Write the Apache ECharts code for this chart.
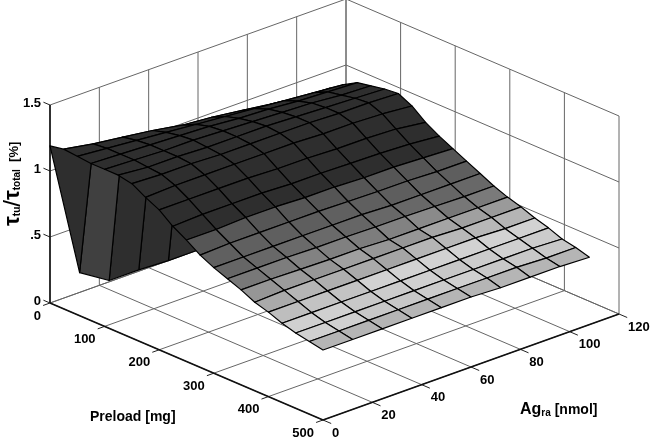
<!DOCTYPE html>
<html>
<head>
<meta charset="utf-8">
<script src="https://cdn.jsdelivr.net/npm/echarts@6/dist/echarts.min.js"></script>
<style>
html, body { margin: 0; padding: 0; background: #fff; }
#chart { width: 650px; height: 437px; }
</style>
</head>
<body>
<div id="chart"></div>
<script>
var preloadTicks = [0, 100, 200, 300, 400, 500];
var agTicks = [0, 20, 40, 60, 80, 100, 120];
var zTicks = [0, 0.5, 1, 1.5];
var zTickLabels = ['0', '.5', '1', '1.5'];

var preloadGrid = [0, 25, 50, 75, 100, 125, 150, 175, 200, 225, 250, 275, 300, 325, 350, 375, 400, 425, 450, 475, 500];
var agGrid = [0, 12, 24, 36, 48, 60, 72, 84, 96, 108];

// ratio, one row per preload, one column per Ag
var ratioRows = [
  [1.19, 0.15, 0.01, 0.01, 0.00, 0.00, 0.00, 0.00, 0.00, 0.00],
  [1.21, 1.17, 1.14, 1.11, 1.07, 1.05, 1.02, 0.99, 0.96, 0.95],
  [1.20, 1.18, 1.16, 1.14, 1.12, 1.10, 1.08, 1.06, 1.04, 1.02],
  [1.19, 1.18, 1.17, 1.16, 1.15, 1.13, 1.12, 1.10, 1.09, 1.08],
  [1.19, 1.18, 1.17, 1.17, 1.16, 1.15, 1.14, 1.13, 1.11, 1.10],
  [1.19, 1.17, 1.17, 1.16, 1.16, 1.16, 1.15, 1.14, 1.13, 1.12],
  [1.17, 1.16, 1.16, 1.15, 1.15, 1.15, 1.15, 1.14, 1.14, 1.13],
  [1.11, 1.12, 1.12, 1.12, 1.12, 1.12, 1.11, 1.11, 1.10, 1.08],
  [1.06, 1.06, 1.06, 1.06, 1.05, 1.05, 1.04, 1.04, 1.03, 1.00],
  [0.98, 0.99, 0.99, 0.99, 0.98, 0.98, 0.975, 0.97, 0.96, 0.94],
  [0.92, 0.92, 0.93, 0.93, 0.92, 0.92, 0.91, 0.91, 0.90, 0.89],
  [0.85, 0.86, 0.86, 0.86, 0.86, 0.855, 0.85, 0.85, 0.84, 0.84],
  [0.80, 0.80, 0.80, 0.80, 0.80, 0.80, 0.79, 0.79, 0.79, 0.79],
  [0.76, 0.76, 0.76, 0.755, 0.755, 0.75, 0.75, 0.745, 0.74, 0.74],
  [0.72, 0.72, 0.715, 0.71, 0.71, 0.70, 0.70, 0.70, 0.70, 0.70],
  [0.67, 0.68, 0.68, 0.68, 0.68, 0.68, 0.68, 0.67, 0.67, 0.67],
  [0.64, 0.64, 0.64, 0.64, 0.64, 0.64, 0.64, 0.64, 0.63, 0.63],
  [0.60, 0.60, 0.60, 0.60, 0.60, 0.60, 0.60, 0.60, 0.60, 0.60],
  [0.57, 0.57, 0.57, 0.57, 0.57, 0.57, 0.57, 0.57, 0.57, 0.56],
  [0.55, 0.55, 0.55, 0.55, 0.55, 0.55, 0.55, 0.55, 0.54, 0.54],
  [0.53, 0.53, 0.53, 0.53, 0.53, 0.53, 0.52, 0.52, 0.52, 0.51]
];

// grey level of each facet, one row per preload band
var shadeRows = [
  [46, 64, 46, 46, 48, 46, 46, 46, 46],
  [46, 46, 46, 46, 46, 46, 46, 46, 46],
  [46, 46, 46, 46, 46, 46, 46, 46, 46],
  [46, 46, 46, 46, 46, 46, 46, 46, 46],
  [46, 46, 46, 46, 46, 46, 46, 46, 46],
  [46, 46, 46, 46, 46, 46, 46, 46, 46],
  [46, 46, 46, 46, 46, 46, 46, 46, 46],
  [46, 46, 46, 46, 46, 46, 46, 46, 46],
  [46, 46, 46, 46, 46, 46, 46, 46, 46],
  [46, 46, 46, 46, 46, 46, 46, 46, 46],
  [86, 88, 86, 86, 85, 86, 86, 85, 85],
  [96, 96, 95, 94, 96, 95, 94, 95, 94],
  [102, 104, 106, 106, 102, 104, 104, 102, 104],
  [120, 125, 130, 128, 125, 130, 138, 119, 122],
  [150, 155, 150, 160, 150, 150, 165, 160, 154],
  [170, 181, 175, 170, 165, 181, 184, 184, 181],
  [190, 195, 195, 210, 210, 210, 210, 210, 210],
  [208, 208, 200, 204, 208, 200, 204, 208, 204],
  [208, 208, 200, 200, 204, 208, 200, 200, 200],
  [181, 181, 181, 181, 181, 181, 181, 181, 181]
];

var preloadMax = 500, agMax = 120, zMax = 1.5;

// parallel projection of the 3d box onto the flat helper axes
function project(preload, ag, z) {
  return [
    50 + 273 * preload / preloadMax + 296 * ag / agMax,
    303 + 117 * preload / preloadMax - 106 * ag / agMax - 198 * z / zMax
  ];
}

var wallLines = [], axisLines = [], tickLines = [], tickTexts = [];
preloadTicks.forEach(function (p) {
  wallLines.push([[p, agMax, 0], [p, agMax, zMax]]);
  wallLines.push([[p, 0, 0], [p, agMax, 0]]);
  tickLines.push([[p, 0, 0], [p, -2.8, 0]]);
  tickTexts.push({ at: [p, 0, 0], dx: -9, dy: 13, align: 'right', text: String(p) });
});
agTicks.forEach(function (a) {
  wallLines.push([[0, a, 0], [0, a, zMax]]);
  wallLines.push([[0, a, 0], [preloadMax, a, 0]]);
  tickLines.push([[preloadMax, a, 0], [preloadMax + 15, a, 0]]);
  tickTexts.push({ at: [preloadMax, a, 0], dx: 9, dy: 13, align: 'left', text: String(a) });
});
zTicks.forEach(function (z, i) {
  wallLines.push([[0, 0, z], [0, agMax, z]]);
  wallLines.push([[0, agMax, z], [preloadMax, agMax, z]]);
  tickLines.push([[0, 0, z], [-12, 0, z]]);
  tickTexts.push({ at: [0, 0, z], dx: -9, dy: -2, align: 'right', text: zTickLabels[i] });
});
axisLines.push([[0, 0, 0], [0, 0, zMax]]);
axisLines.push([[0, 0, 0], [preloadMax, 0, 0]]);
axisLines.push([[preloadMax, 0, 0], [preloadMax, agMax, 0]]);

// back facets first: low preload, high Ag
var facets = [];
for (var r = 0; r < preloadGrid.length - 1; r++) {
  for (var c = agGrid.length - 2; c >= 0; c--) {
    facets.push([r, c]);
  }
}

function point3d(api, q) {
  return api.coord(project(q[0], q[1], q[2]));
}

function segmentSeries(list, color, width, z) {
  return {
    type: 'custom',
    silent: true,
    z: z,
    clip: false,
    data: list.map(function (s, i) { return [i, 0]; }),
    renderItem: function (params, api) {
      var s = list[params.dataIndex];
      var a = point3d(api, s[0]), b = point3d(api, s[1]);
      return {
        type: 'line',
        shape: { x1: a[0], y1: a[1], x2: b[0], y2: b[1] },
        style: { stroke: color, lineWidth: width }
      };
    }
  };
}

var chart = echarts.init(document.getElementById('chart'), null, { renderer: 'canvas' });
chart.setOption({
  animation: false,
  backgroundColor: '#fff',
  grid: { left: 0, right: 0, top: 0, bottom: 0 },
  xAxis: { type: 'value', min: 0, max: 650, show: false },
  yAxis: { type: 'value', min: 0, max: 437, inverse: true, show: false },
  graphic: [
    {
      type: 'text', left: 90, top: 410,
      style: { text: 'Preload [mg]', font: 'bold 14px "Liberation Sans"', fill: '#000' }
    },
    {
      type: 'text', left: 520, top: 402,
      style: {
        text: '{a|Ag}{b|ra}{c| [nmol]}',
        rich: {
          a: { font: 'bold 16px "Liberation Sans"', fill: '#000' },
          b: { font: 'bold 10px "Liberation Sans"', fill: '#000', padding: [7, 0, 0, 0] },
          c: { font: 'bold 14px "Liberation Sans"', fill: '#000' }
        }
      }
    },
    {
      type: 'text', x: 1, y: 226, rotation: Math.PI / 2,
      style: {
        text: '{a|\u03c4}{b|tu}{c|/}{a|\u03c4}{b|total}{d|  [%]}',
        rich: {
          a: { font: 'bold 22px "Liberation Sans"', fill: '#000' },
          b: { font: 'bold 10px "Liberation Sans"', fill: '#000', padding: [9, 0, 0, 0] },
          c: { font: '24px "Liberation Sans"', fill: '#000' },
          d: { font: 'bold 13px "Liberation Sans"', fill: '#000', padding: [3, 0, 0, 0] }
        }
      }
    }
  ],
  series: [
    segmentSeries(wallLines, '#666', 1, 1),
    segmentSeries(tickLines, '#222', 1, 2),
    segmentSeries(axisLines, '#111', 1.6, 2),
    {
      type: 'custom',
      silent: true,
      z: 3,
      clip: false,
      data: facets,
      renderItem: function (params, api) {
        var r = facets[params.dataIndex][0], c = facets[params.dataIndex][1];
        var corners = [[r, c], [r + 1, c], [r + 1, c + 1], [r, c + 1]].map(function (k) {
          return point3d(api, [preloadGrid[k[0]], agGrid[k[1]], ratioRows[k[0]][k[1]]]);
        });
        var g = shadeRows[r][c];
        return {
          type: 'polygon',
          shape: { points: corners },
          style: { fill: 'rgb(' + g + ',' + g + ',' + g + ')', stroke: '#000', lineWidth: 1.2, lineJoin: 'round' }
        };
      }
    },
    {
      type: 'custom',
      silent: true,
      z: 4,
      clip: false,
      data: tickTexts.map(function (t, i) { return [i, 0]; }),
      renderItem: function (params, api) {
        var t = tickTexts[params.dataIndex];
        var p = point3d(api, t.at);
        return {
          type: 'text',
          style: {
            x: p[0] + t.dx, y: p[1] + t.dy, text: t.text, align: t.align, verticalAlign: 'middle',
            font: 'bold 13px "Liberation Sans"', fill: '#000'
          }
        };
      }
    }
  ]
});
</script>
</body>
</html>
